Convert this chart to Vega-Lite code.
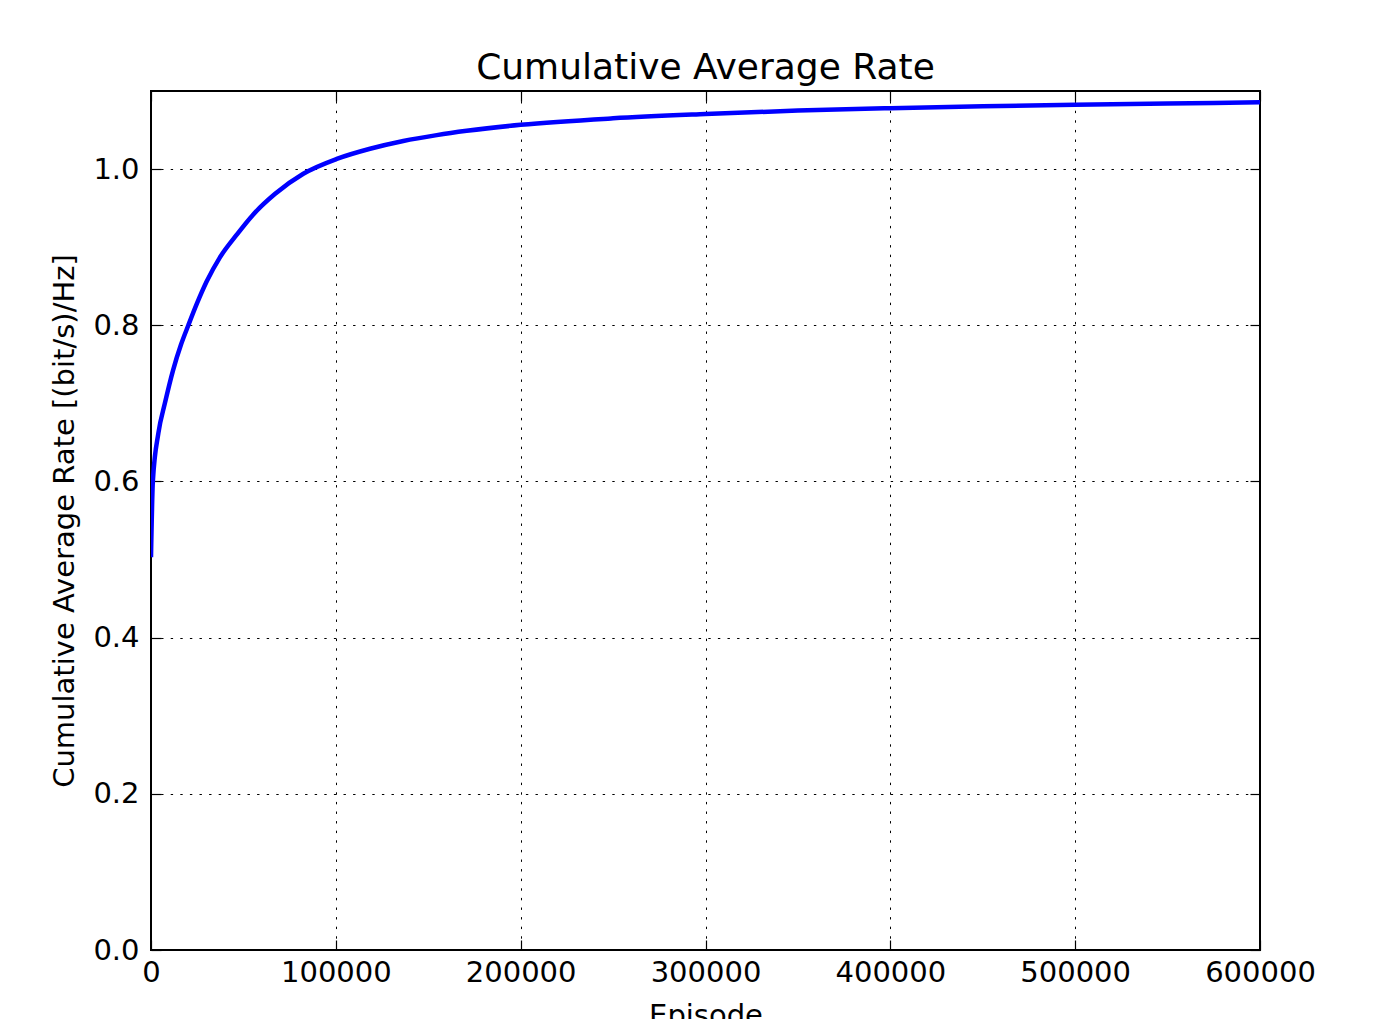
{
  "$schema": "https://vega.github.io/schema/vega-lite/v6.json",
  "width": 1109,
  "height": 859,
  "autosize": {"type": "none"},
  "padding": {"left": 151, "top": 91, "right": 128, "bottom": 69},
  "background": "white",
  "config": {
    "view": {"stroke": "black", "strokeWidth": 2},
    "font": "DejaVu Sans"
  },
  "title": {
    "text": "Cumulative Average Rate",
    "fontSize": 36,
    "fontWeight": "normal",
    "font": "DejaVu Sans",
    "color": "black",
    "anchor": "middle",
    "baseline": "alphabetic",
    "offset": -25
  },
  "data": {
    "values": [
      {"episode": 0, "rate": 0.503},
      {"episode": 1000, "rate": 0.600},
      {"episode": 4000, "rate": 0.662},
      {"episode": 7500, "rate": 0.700},
      {"episode": 12000, "rate": 0.743},
      {"episode": 16200, "rate": 0.775},
      {"episode": 20200, "rate": 0.800},
      {"episode": 24700, "rate": 0.827},
      {"episode": 30100, "rate": 0.856},
      {"episode": 37300, "rate": 0.887},
      {"episode": 46400, "rate": 0.916},
      {"episode": 55000, "rate": 0.941},
      {"episode": 67000, "rate": 0.968},
      {"episode": 82400, "rate": 0.994},
      {"episode": 100500, "rate": 1.013},
      {"episode": 118500, "rate": 1.026},
      {"episode": 136500, "rate": 1.036},
      {"episode": 154600, "rate": 1.0435},
      {"episode": 170800, "rate": 1.049},
      {"episode": 200000, "rate": 1.0567},
      {"episode": 250000, "rate": 1.065},
      {"episode": 300000, "rate": 1.0705},
      {"episode": 350000, "rate": 1.075},
      {"episode": 400000, "rate": 1.078},
      {"episode": 450000, "rate": 1.0805},
      {"episode": 500000, "rate": 1.0825},
      {"episode": 550000, "rate": 1.084},
      {"episode": 600000, "rate": 1.0855}
    ]
  },
  "layer": [
    {
      "mark": {"type": "line", "color": "#0000ff", "strokeWidth": 4.5, "interpolate": "monotone", "clip": true},
      "encoding": {
        "x": {
          "field": "episode", "type": "quantitative",
          "scale": {"domain": [0, 600000], "nice": false, "zero": false},
          "axis": {
            "orient": "bottom",
            "title": "Episode",
            "values": [0, 100000, 200000, 300000, 400000, 500000, 600000],
            "format": "d",
            "domain": false,
            "grid": true, "gridColor": "black", "gridWidth": 1, "gridDash": [2.4, 7.2], "gridOpacity": 1,
            "ticks": true, "tickSize": -10, "tickColor": "black", "tickWidth": 1.2,
            "labelFontSize": 29, "labelColor": "black", "labelFont": "DejaVu Sans",
            "labelBaseline": "alphabetic", "labelPadding": 41, "labelFlush": false, "labelOverlap": false,
            "titleFontSize": 29, "titleFontWeight": "normal", "titleColor": "black", "titleFont": "DejaVu Sans",
            "titleBaseline": "alphabetic", "titleX": 554.5, "titleY": 74, "titleAnchor": null
          }
        },
        "y": {
          "field": "rate", "type": "quantitative",
          "scale": {"domain": [0, 1.1], "nice": false},
          "axis": {
            "orient": "left",
            "title": "Cumulative Average Rate [(bit/s)/Hz]",
            "values": [0, 0.2, 0.4, 0.6, 0.8, 1.0],
            "format": ".1f",
            "domain": false,
            "grid": true, "gridColor": "black", "gridWidth": 1, "gridDash": [2.4, 7.2], "gridOpacity": 1,
            "ticks": true, "tickSize": -10, "tickColor": "black", "tickWidth": 1.2,
            "labelFontSize": 29, "labelColor": "black", "labelFont": "DejaVu Sans",
            "labelBaseline": "middle", "labelPadding": 22, "labelFlush": false, "labelOverlap": false,
            "titleFontSize": 29, "titleFontWeight": "normal", "titleColor": "black", "titleFont": "DejaVu Sans",
            "titleAngle": -90, "titleBaseline": "alphabetic", "titleAlign": "center",
            "titleX": -78, "titleY": 429.5
          }
        }
      }
    },
    {
      "mark": {"type": "line", "opacity": 0},
      "encoding": {
        "x": {
          "field": "episode", "type": "quantitative",
          "scale": {"domain": [0, 600000], "nice": false, "zero": false},
          "axis": {
            "orient": "top", "title": null, "labels": false, "grid": false, "domain": false,
            "values": [0, 100000, 200000, 300000, 400000, 500000, 600000],
            "ticks": true, "tickSize": -10, "tickColor": "black", "tickWidth": 1.2
          }
        },
        "y": {
          "field": "rate", "type": "quantitative",
          "scale": {"domain": [0, 1.1], "nice": false},
          "axis": {
            "orient": "right", "title": null, "labels": false, "grid": false, "domain": false,
            "values": [0, 0.2, 0.4, 0.6, 0.8, 1.0],
            "ticks": true, "tickSize": -10, "tickColor": "black", "tickWidth": 1.2
          }
        }
      }
    }
  ],
  "resolve": {"axis": {"x": "independent", "y": "independent"}}
}
